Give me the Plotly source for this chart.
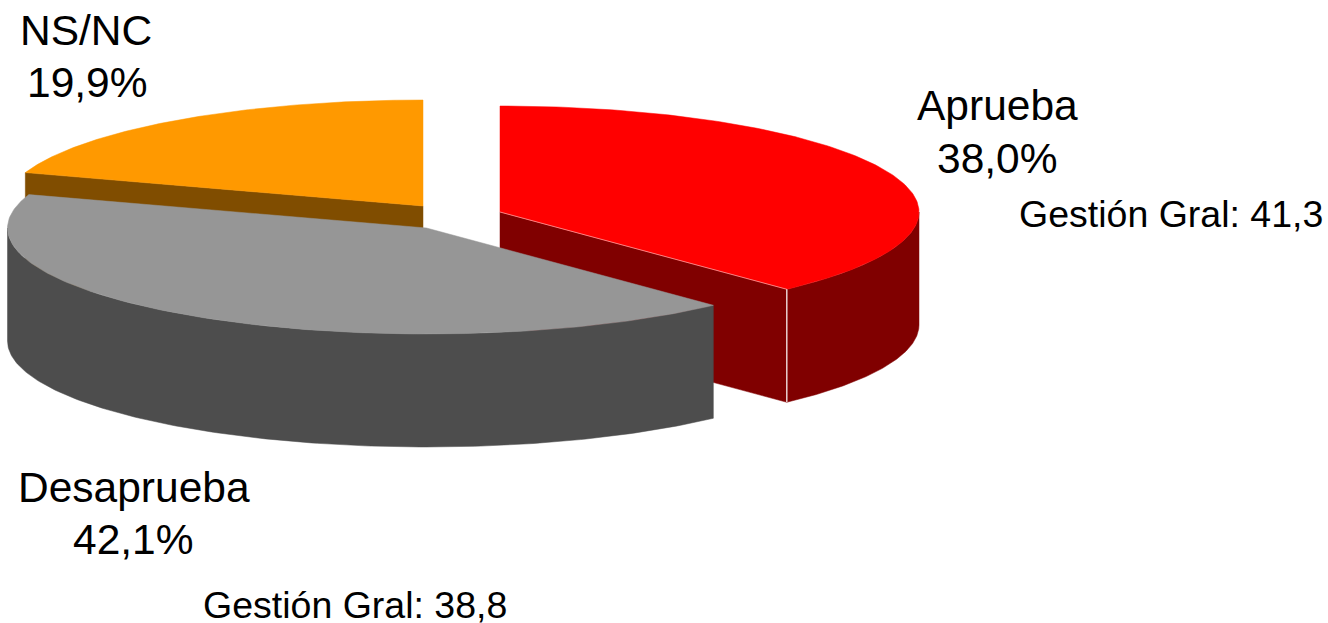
import math
import plotly.graph_objects as go

categories = ["Aprueba", "Desaprueba", "NS/NC"]
values = [38.0, 42.1, 19.9]
value_labels = ["38,0%", "42,1%", "19,9%"]
notes = ["Gestión Gral: 41,3", "Gestión Gral: 38,8"]

top_colors = ["#ff0000", "#969696", "#ff9900"]
side_colors = ["#800000", "#4d4d4d", "#804d00"]

W, H = 1328, 623
RX, RY, DEPTH = 419, 106, 113
centers = [(500, 212), (426.5, 228), (423, 206)]
FONT = "Liberation Sans, Arial, sans-serif"

# cumulative angles, clockwise from 12 o'clock
total = sum(values)
angles = []
c = 0.0
for v in values:
    angles.append((c, c + v / total * 360))
    c += v / total * 360


def pt(center, deg, dy=0):
    t = math.radians(deg)
    return center[0] + RX * math.sin(t), center[1] - RY * math.cos(t) + dy


def arc(center, a0, a1, dy=0, n=160):
    return [pt(center, a0 + (a1 - a0) * i / n, dy) for i in range(n + 1)]


fig = go.Figure()


def poly(points, color):
    xs = [p[0] for p in points] + [points[0][0]]
    ys = [p[1] for p in points] + [points[0][1]]
    fig.add_trace(go.Scatter(x=xs, y=ys, mode="lines", fill="toself", fillcolor=color,
                             line=dict(color=color, width=0.5), hoverinfo="skip", showlegend=False))


def top(i):
    poly([centers[i]] + arc(centers[i], *angles[i]), top_colors[i])


def cut(i, deg):
    c0 = centers[i]
    e = pt(c0, deg)
    poly([c0, e, (e[0], e[1] + DEPTH), (c0[0], c0[1] + DEPTH)], side_colors[i])


def rim(i, a0, a1):
    poly(arc(centers[i], a0, a1) + arc(centers[i], a1, a0, DEPTH), side_colors[i])


def seg(p, q, color, width):
    fig.add_trace(go.Scatter(x=[p[0], q[0]], y=[p[1], q[1]], mode="lines",
                             line=dict(color=color, width=width), hoverinfo="skip", showlegend=False))


# NS/NC (back)
cut(2, angles[2][0])
top(2)

# Aprueba (exploded)
cut(0, angles[0][1])
rim(0, 90, angles[0][1])
top(0)
e = pt(centers[0], angles[0][1])
seg(centers[0], e, "#ffb0b0", 0.7)
seg(e, (e[0], e[1] + DEPTH), "#ffffff", 1.2)

# Desaprueba (front)
rim(1, angles[1][0], 270)
top(1)

texts = [
    (997, 105, categories[0], 42.5), (997, 158, value_labels[0], 42.5),
    (1171, 214, notes[0], 37.5),
    (133.5, 487, categories[1], 42.5), (133.5, 539, value_labels[1], 42.5),
    (355, 605, notes[1], 37.5),
    (85.5, 30, categories[2], 42.5), (87, 82, value_labels[2], 42.5),
]
for x, y, t, s in texts:
    fig.add_annotation(x=x, y=y, text=t, showarrow=False, xanchor="center", yanchor="middle",
                       font=dict(family=FONT, size=s, color="#000000"))

fig.update_layout(width=W, height=H, margin=dict(l=0, r=0, t=0, b=0),
                  paper_bgcolor="#ffffff", plot_bgcolor="#ffffff",
                  xaxis=dict(range=[0, W], visible=False, fixedrange=True),
                  yaxis=dict(range=[H, 0], visible=False, fixedrange=True))
fig.write_html("out.html", config={"displayModeBar": False},
               post_script="document.body.style.margin='0';document.body.style.overflow='hidden';")
